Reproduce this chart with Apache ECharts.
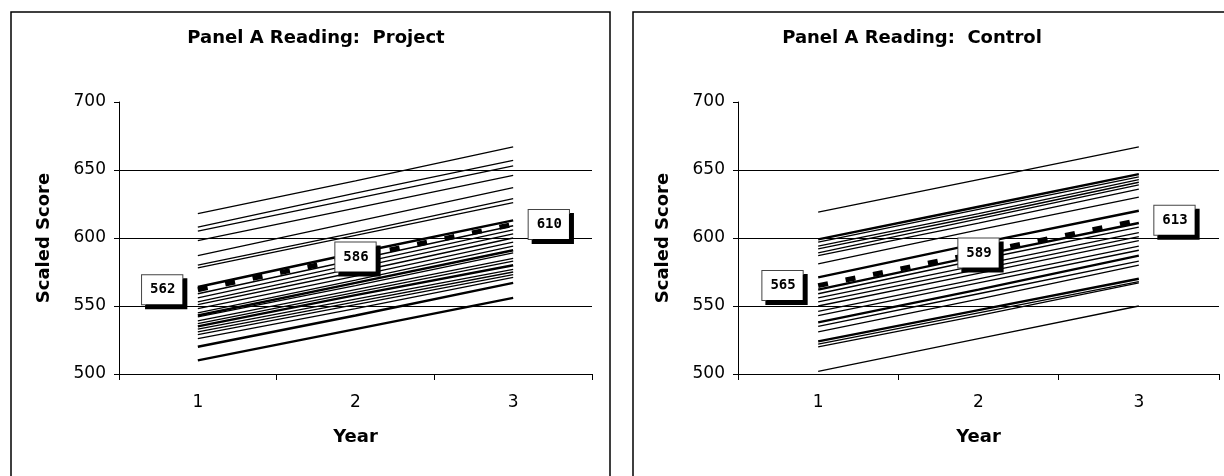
<!DOCTYPE html>
<html>
<head>
<meta charset="utf-8">
<script src="https://cdn.jsdelivr.net/npm/echarts@6/dist/echarts.min.js"></script>
<style>
html, body { margin: 0; padding: 0; background: #fff; }
#main { width: 1224px; height: 476px; }
</style>
</head>
<body>
<div id="main"></div>
<script>
// x categories
var years = ['1', '2', '3'];

// Panel A Reading: Project - one line per school, year 1..3
var projectLines = [
    [618, 642, 667], [608, 633, 657], [605, 629, 653], [598, 622, 646],
    [587, 612, 637], [580, 604, 629], [578, 602, 626], [564, 589, 613],
    [559, 584, 609], [556, 581, 606], [553, 578, 603], [551, 575, 600],
    [548, 572, 597], [545, 569, 594], [543, 567, 591], [542, 565, 589],
    [539, 562, 585], [537, 560, 583], [535, 558, 580], [533, 555, 577],
    [531, 553, 575], [529, 551, 573], [526, 548, 571], [520, 543, 567],
    [510, 533, 556]
];
var projectMean = [562, 586, 610];

// Panel A Reading: Control
var controlLines = [
    [619, 643, 667], [599, 623, 647], [597, 621, 645], [594, 618, 643],
    [592, 616, 641], [589, 614, 639], [587, 611, 636], [581, 606, 630],
    [571, 596, 620], [562, 587, 611], [559, 584, 608], [556, 580, 604],
    [553, 577, 601], [550, 574, 598], [546, 570, 594], [543, 567, 591],
    [538, 562, 587], [535, 559, 583], [531, 555, 580], [524, 547, 570],
    [522, 545, 568], [520, 543, 567], [502, 526, 550]
];
var controlMean = [565, 589, 613];

// heavier strokes (index into the lines above)
var projectThick = [7, 14, 18, 23, 24];
var controlThick = [1, 8, 9, 16, 19];

// where the mean labels sit: year 1, 2, 3
var labelPos = ['left', 'inside', 'right'];

var myChart = echarts.init(document.getElementById('main'));

function makeYAxis(idx) {
    return {
        type: 'value',
        gridIndex: idx,
        min: 500,
        max: 700,
        interval: 50,
        name: 'Scaled Score',
        nameLocation: 'middle',
        nameGap: 66,
        nameTextStyle: {
            color: '#000',
            fontFamily: 'DejaVu Sans',
            fontWeight: 'bold',
            fontSize: 18
        },
        axisLine: { show: true, lineStyle: { color: '#000', width: 1 } },
        axisTick: { show: true, length: 5, lineStyle: { color: '#000' } },
        axisLabel: {
            color: '#000',
            fontFamily: 'DejaVu Sans',
            fontSize: 17,
            margin: 13
        },
        // no gridline on top at 700
        splitLine: {
            show: true,
            lineStyle: { color: ['#000', '#000', '#000', '#000', 'rgba(0,0,0,0)'], width: 1 }
        }
    };
}

function makeXAxis(idx) {
    return {
        type: 'category',
        gridIndex: idx,
        data: years,
        boundaryGap: true,
        name: 'Year',
        nameLocation: 'middle',
        nameGap: 54,
        nameTextStyle: {
            color: '#000',
            fontFamily: 'DejaVu Sans',
            fontWeight: 'bold',
            fontSize: 18
        },
        axisLine: { lineStyle: { color: '#000', width: 1 } },
        axisTick: { show: true, length: 6, lineStyle: { color: '#000' } },
        axisLabel: {
            color: '#000',
            fontFamily: 'DejaVu Sans',
            fontSize: 17,
            margin: 20
        }
    };
}

function panelSeries(lines, thick, mean, idx) {
    var out = lines.map(function (vals, i) {
        return {
            type: 'line',
            xAxisIndex: idx,
            yAxisIndex: idx,
            data: vals,
            symbol: 'none',
            silent: true,
            lineStyle: { color: '#000', width: thick.indexOf(i) >= 0 ? 2.4 : 1.3 }
        };
    });
    out.push({
        type: 'line',
        xAxisIndex: idx,
        yAxisIndex: idx,
        z: 5,
        symbol: 'rect',
        symbolSize: 1,
        itemStyle: { color: 'rgba(0,0,0,0)' },
        lineStyle: { color: '#000', width: 5, type: [10, 18] },
        data: mean.map(function (v, i) {
            return { value: v, label: { position: labelPos[i] } };
        }),
        label: {
            show: true,
            color: '#000',
            fontFamily: 'DejaVu Sans Mono',
            fontWeight: 'bold',
            fontSize: 14,
            backgroundColor: '#fff',
            borderColor: '#444',
            borderWidth: 1,
            padding: [8, 7, 7, 8],
            shadowColor: '#000',
            shadowBlur: 0,
            shadowOffsetX: 4,
            shadowOffsetY: 4,
            distance: 15
        }
    });
    return out;
}

var option = {
    animation: false,
    title: [{
        text: 'Panel A Reading:  Project',
        left: 311,
        top: 24,
        textAlign: 'center',
        textStyle: { color: '#000', fontFamily: 'DejaVu Sans', fontWeight: 'bold', fontSize: 18 }
    }, {
        text: 'Panel A Reading:  Control',
        left: 907,
        top: 24,
        textAlign: 'center',
        textStyle: { color: '#000', fontFamily: 'DejaVu Sans', fontWeight: 'bold', fontSize: 18 }
    }],
    grid: [
        { left: 119, right: 632, top: 102, bottom: 102, containLabel: false },
        { left: 738, right: 5, top: 102, bottom: 102, containLabel: false }
    ],
    xAxis: [makeXAxis(0), makeXAxis(1)],
    yAxis: [makeYAxis(0), makeYAxis(1)],
    // panel frames
    graphic: [{
        type: 'rect',
        shape: { x: 11, y: 12, width: 599, height: 480 },
        style: { fill: 'none', stroke: '#000', lineWidth: 1.5 },
        silent: true
    }, {
        type: 'rect',
        shape: { x: 633, y: 12, width: 610, height: 480 },
        style: { fill: 'none', stroke: '#000', lineWidth: 1.5 },
        silent: true
    }],
    series: panelSeries(projectLines, projectThick, projectMean, 0)
        .concat(panelSeries(controlLines, controlThick, controlMean, 1))
};

myChart.setOption(option);
</script>
</body>
</html>
